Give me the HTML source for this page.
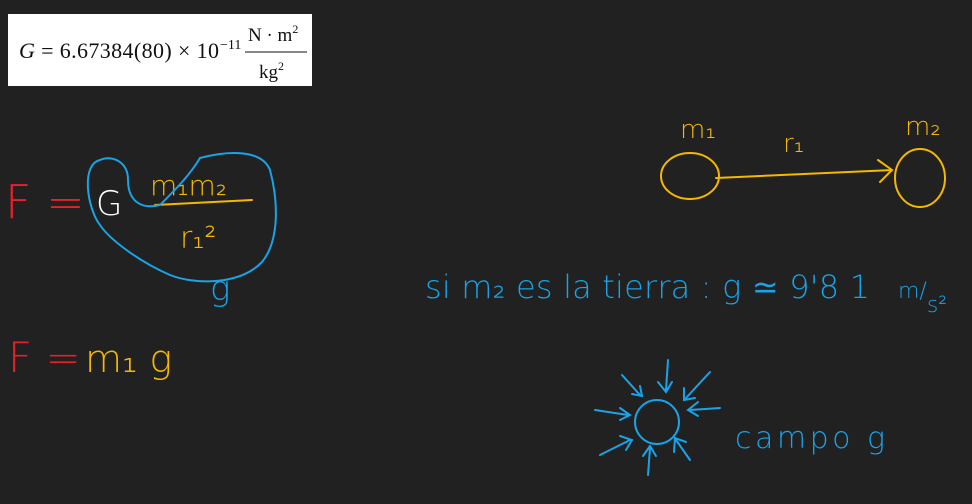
<!DOCTYPE html>
<html><head><meta charset="utf-8"><style>
html,body{margin:0;padding:0;background:#212121;}
svg{display:block}
.h{font-family:"DejaVu Sans","Liberation Sans",sans-serif;font-weight:200}
</style></head><body>
<svg width="972" height="504" viewBox="0 0 972 504" xmlns="http://www.w3.org/2000/svg">
<rect width="972" height="504" fill="#212121"/>
<g>
<rect x="8" y="14" width="304" height="72" fill="#ffffff"/>
<text x="19" y="58" font-family="Liberation Serif,serif" font-size="22" fill="#111" textLength="200"><tspan font-style="italic">G</tspan> = 6.67384(80) × 10</text>
<text x="220" y="49" font-family="Liberation Serif,serif" font-size="14" fill="#111">−11</text>
<text x="248" y="41" font-family="Liberation Serif,serif" font-size="19" fill="#111">N · m<tspan dy="-8" font-size="12">2</tspan></text>
<line x1="245" y1="52" x2="307" y2="52" stroke="#111" stroke-width="1"/>
<text x="259" y="78" font-family="Liberation Serif,serif" font-size="19" fill="#111">kg<tspan dy="-8" font-size="12">2</tspan></text>
</g>
<g fill="none" stroke-linecap="round" stroke-width="2">
<g>
<text class="h" x="5" y="218" font-size="46" fill="#e8202a">F =</text>
<text class="h" x="96" y="215" font-size="34" fill="#ffffff">G</text>
<text class="h" x="150" y="195" font-size="28" fill="#f5b800">m₁m₂</text>
<path d="M155 205 L252 200" stroke="#f5b800"/>
<text class="h" x="180" y="248" font-size="30" fill="#f5b800">r₁²</text>
<path d="M100 160 C80 165 88 210 100 225 C110 240 140 262 170 275 C195 285 240 285 262 262 C280 240 278 200 270 170 C262 150 230 150 200 158 C190 175 175 190 160 205 C140 210 128 200 128 180 C128 160 110 155 100 160" stroke="#19a3e8"/>
<text class="h" x="210" y="300" font-size="34" fill="#19a3e8">g</text>
</g>
<g>
<text class="h" x="8" y="372" font-size="42" fill="#e8202a">F =</text>
<text class="h" x="85" y="372" font-size="38" fill="#f5b800">m₁ g</text>
</g>
<g>
<text class="h" x="680" y="138" font-size="26" fill="#f5b800">m₁</text>
<text class="h" x="783" y="152" font-size="26" fill="#f5b800">r₁</text>
<text class="h" x="905" y="135" font-size="26" fill="#f5b800">m₂</text>
<ellipse cx="690" cy="176" rx="29" ry="23" stroke="#f5b800"/>
<ellipse cx="920" cy="178" rx="25" ry="29" stroke="#f5b800"/>
<path d="M716 178 L892 170 M878 160 L892 170 L880 182" stroke="#f5b800"/>
</g>
<g>
<text class="h" x="425" y="298" font-size="32" fill="#19a3e8" textLength="445">si m₂ es la tierra : g ≃ 9'8 1</text>
<text class="h" x="898" y="298" font-size="22" fill="#19a3e8">m/<tspan dy="14">s²</tspan></text>
</g>
<g stroke="#19a3e8">
<ellipse cx="657" cy="422" rx="22" ry="22"/>
<path d="M668 360 L666 390 M658 382 L666 392 L672 382"/>
<path d="M622 375 L640 395 M632 394 L642 396 L640 386"/>
<path d="M710 372 L686 398 M684 388 L684 400 L695 398"/>
<path d="M720 408 L690 410 M698 402 L688 410 L698 416"/>
<path d="M595 410 L628 415 M620 408 L630 415 L620 420"/>
<path d="M600 455 L630 440 M620 436 L632 440 L626 450"/>
<path d="M648 475 L650 448 M643 456 L650 446 L656 456"/>
<path d="M690 460 L676 440 M674 452 L675 438 L686 442"/>
<text class="h" x="735" y="448" font-size="30" fill="#19a3e8" stroke="none" textLength="150">campo g</text>
</g>
</g>
</svg>
</body></html>
